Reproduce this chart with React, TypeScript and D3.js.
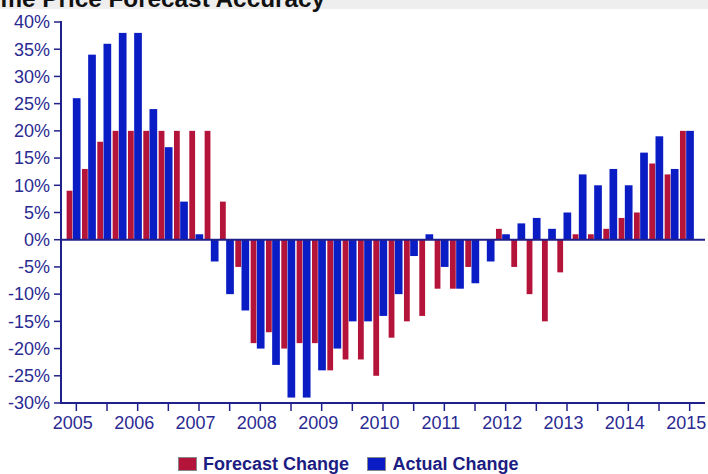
import React from "react";
import * as d3 from "d3";

const quarters = [
  2005, 2005.25, 2005.5, 2005.75,
  2006, 2006.25, 2006.5, 2006.75,
  2007, 2007.25, 2007.5, 2007.75,
  2008, 2008.25, 2008.5, 2008.75,
  2009, 2009.25, 2009.5, 2009.75,
  2010, 2010.25, 2010.5, 2010.75,
  2011, 2011.25, 2011.5, 2011.75,
  2012, 2012.25, 2012.5, 2012.75,
  2013, 2013.25, 2013.5, 2013.75,
  2014, 2014.25, 2014.5, 2014.75,
  2015,
];
const forecastChange = [
  9, 13, 18, 20, 20, 20, 20, 20, 20, 20, 7, -5,
  -19, -17, -20, -19, -19, -24, -22, -22, -25, -18, -15, -14,
  -9, -9, -5, 0, 2, -5, -10, -15, -6, 1, 1, 2,
  4, 5, 14, 12, 20,
];
const actualChange = [
  26, 34, 36, 38, 38, 24, 17, 7, 1, -4, -10, -13,
  -20, -23, -29, -29, -24, -20, -15, -15, -14, -10, -3, 1,
  -5, -9, -8, -4, 1, 3, 4, 2, 5, 12, 10, 13,
  10, 16, 19, 13, 20,
];
const yTicks = [-30, -25, -20, -15, -10, -5, 0, 5, 10, 15, 20, 25, 30, 35, 40];
const xTicks = [
  2005, 2005.5, 2006, 2006.5, 2007, 2007.5, 2008, 2008.5, 2009, 2009.5, 2010,
  2010.5, 2011, 2011.5, 2012, 2012.5, 2013, 2013.5, 2014, 2014.5, 2015,
];
const yearLabels = [2005, 2006, 2007, 2008, 2009, 2010, 2011, 2012, 2013, 2014, 2015];
const title = "Home Price Forecast Accuracy";
const seriesNames = ["Forecast Change", "Actual Change"];

const RED = "#b5143a";
const BLUE = "#0a1cc4";
const AXIS = "#20208a";
const TEXT = "#2a2a92";
const FONT = "'Liberation Sans', Arial, sans-serif";

export default function App() {
  const x = d3.scaleLinear().domain([2004.75, 2015.25]).range([61, 705]);
  const y = d3.scaleLinear().domain([-30, 40]).range([403, 22]);
  const y0 = y(0);

  return (
    <svg
      width={708}
      height={474}
      style={{ position: "absolute", left: 0, top: 0, background: "#ffffff" }}
    >
      <rect x={0} y={0} width={708} height={9} fill="#eeeeee" />
      <text
        x={-32}
        y={6.5}
        fontFamily={FONT}
        fontWeight="bold"
        fontSize={24.3}
        fill="#111"
      >
        {title}
      </text>

      {quarters.map((q, i) => {
        const v = forecastChange[i];
        const yy = Math.min(y(v), y0);
        return (
          <rect
            key={"f" + i}
            x={x(q) - 9.7}
            y={yy}
            width={5.8}
            height={Math.abs(y(v) - y0)}
            fill={RED}
          />
        );
      })}
      {quarters.map((q, i) => {
        const v = actualChange[i];
        const yy = Math.min(y(v), y0);
        return (
          <rect
            key={"a" + i}
            x={x(q) - 3.5}
            y={yy}
            width={7.7}
            height={Math.abs(y(v) - y0)}
            fill={BLUE}
          />
        );
      })}

      {/* zero line */}
      <line x1={61} x2={705} y1={y0} y2={y0} stroke={AXIS} strokeWidth={2} />

      {/* y axis */}
      <line x1={61} x2={61} y1={y(40) - 1} y2={403} stroke={AXIS} strokeWidth={2} />
      {yTicks.map((t) => (
        <g key={"yt" + t}>
          <line x1={54} x2={61} y1={y(t)} y2={y(t)} stroke={AXIS} strokeWidth={1.5} />
          <text
            x={50}
            y={y(t)}
            dy="0.35em"
            textAnchor="end"
            fontFamily={FONT}
            fontSize={18}
            fill={TEXT}
          >
            {t + "%"}
          </text>
        </g>
      ))}

      {/* x axis */}
      <line x1={60} x2={705} y1={403} y2={403} stroke={AXIS} strokeWidth={2} />
      {xTicks.map((t) => (
        <line
          key={"xt" + t}
          x1={x(t)}
          x2={x(t)}
          y1={403}
          y2={411}
          stroke={AXIS}
          strokeWidth={1.5}
        />
      ))}
      {yearLabels.map((t) => (
        <text
          key={"xl" + t}
          x={x(t) - 3.5}
          y={429}
          textAnchor="middle"
          fontFamily={FONT}
          fontSize={18}
          fill={TEXT}
        >
          {t}
        </text>
      ))}

      {/* legend */}
      <rect x={178.5} y={457.5} width={18} height={13} fill={RED} stroke="#888" strokeWidth={1} />
      <text x={203} y={470} fontFamily={FONT} fontWeight="bold" fontSize={18} fill="#1c1c82">
        {seriesNames[0]}
      </text>
      <rect x={367.5} y={457.5} width={18} height={13} fill={BLUE} stroke="#888" strokeWidth={1} />
      <text x={392.5} y={470} fontFamily={FONT} fontWeight="bold" fontSize={18} fill="#1c1c82">
        {seriesNames[1]}
      </text>
    </svg>
  );
}
